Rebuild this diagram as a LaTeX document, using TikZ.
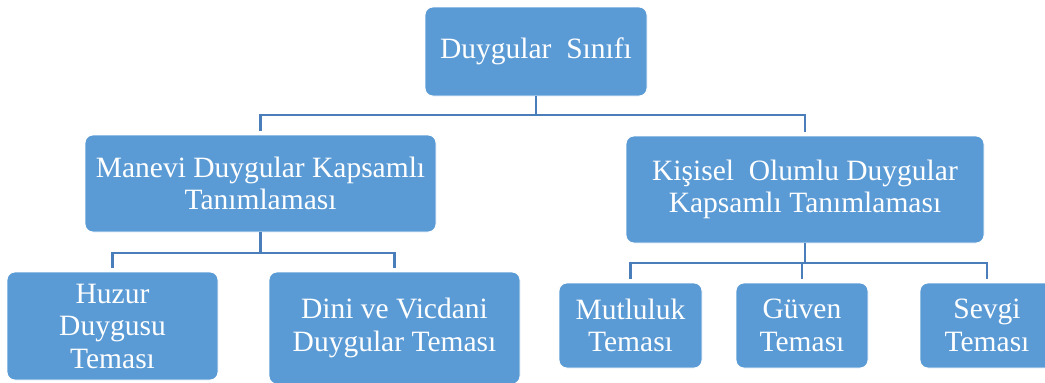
\documentclass[tikz,border=0pt]{standalone}
\usepackage{fontspec}
\setmainfont{Liberation Serif}
\definecolor{boxblue}{HTML}{5B9BD5}
\definecolor{linkblue}{HTML}{4A7EBB}
\tikzset{
  card/.style={rectangle, rounded corners=8pt, fill=boxblue, draw=white, line width=0.8pt,
    text=white, align=center, inner sep=0pt,
    font=\fontsize{29.5}{32.5}\selectfont},
  link/.style={draw=linkblue, line width=2.8pt, shorten >=3.5pt}
}
\begin{document}
\begin{tikzpicture}[x=1pt,y=-1pt]
\useasboundingbox (0,0) rectangle (1045,383);
% top level
\node[card, minimum width=222pt, minimum height=89pt] (top) at (536,51.5) {Duygular\ \ Sınıfı};
% second level
\node[card, minimum width=351pt, minimum height=97pt] (M) at (260.5,183.5) {Manevi Duygular Kapsamlı\\Tanımlaması};
\node[card, minimum width=358pt, minimum height=107pt] (K) at (805,189.5) {Kişisel\ \ Olumlu Duygular\\Kapsamlı Tanımlaması};
% third level
\node[card, minimum width=211pt, minimum height=108pt] (H) at (112.5,326) {Huzur\\Duygusu\\Teması};
\node[card, minimum width=251pt, minimum height=112pt] (D) at (394.5,328) {Dini ve Vicdani\\Duygular Teması};
\node[card, minimum width=143pt, minimum height=85pt] (Mu) at (630.5,325.5) {Mutluluk\\Teması};
\node[card, minimum width=132pt, minimum height=85pt] (G) at (802,325.5) {Güven\\Teması};
\node[card, minimum width=134pt, minimum height=85pt] (S) at (987,325.5) {Sevgi\\Teması};
% bus junctions
\coordinate (b1) at (536,115);
\coordinate (b2) at (260.5,253);
\coordinate (b3) at (805,263);
% connectors
\draw[link] (top.south) -- (b1) -| (M.north);
\draw[link] (b1) -| (K.north);
\draw[link] (M.south) -- (b2) -| (H.north);
\draw[link] (b2) -| (D.north);
\draw[link] (K.south) -- (b3) -| (Mu.north);
\draw[link] (b3) -| (G.north);
\draw[link] (b3) -| (S.north);
\end{tikzpicture}
\end{document}
